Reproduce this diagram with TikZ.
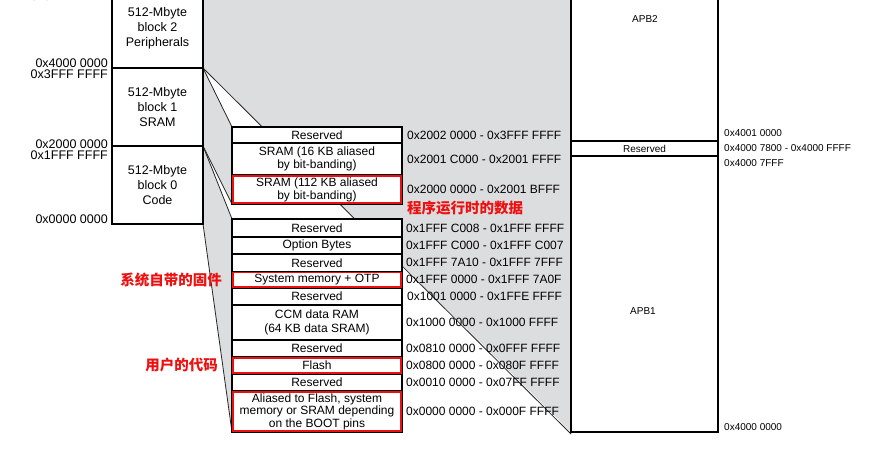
\documentclass[tikz,border=0pt]{standalone}
\usepackage{fontspec}
\setmainfont{Liberation Sans}
\newfontfamily\cjk{Noto Sans CJK SC}
\usepackage{tikz}
\usetikzlibrary{positioning,backgrounds}
\definecolor{fangray}{RGB}{220,221,223}
\definecolor{hlred}{RGB}{238,16,16}

\tikzset{
  blk/.style={draw, line width=1.2pt, fill=white, minimum width=91pt, inner sep=0pt,
    outer sep=0pt, align=center, anchor=north west, font=\fontsize{12.5}{15}\selectfont},
  row/.style={draw, line width=1.2pt, fill=white, minimum width=170pt, inner sep=0.5pt,
    outer sep=0pt, align=center, anchor=north west, font=\fontsize{12}{13}\selectfont},
  apbbox/.style={draw, line width=1.2pt, fill=white, minimum width=147pt, inner sep=0pt,
    outer sep=0pt, anchor=north west, font=\fontsize{10}{12}\selectfont},
  apbtxt/.style={inner sep=0pt, font=\fontsize{10}{12}\selectfont},
  addr/.style={inner sep=0pt, anchor=west, font=\fontsize{12}{14}\selectfont},
  laddr/.style={inner sep=0pt, anchor=east, font=\fontsize{12.5}{14}\selectfont},
  hl/.style={draw=hlred, line width=1.5pt},
  note/.style={inner sep=0pt, text=hlred, font=\cjk\bfseries\fontsize{14.5}{16}\selectfont},
  fanline/.style={line width=0.8pt, black!85}
}

\begin{document}
\begin{tikzpicture}[x=1pt, y=-1pt]
    \useasboundingbox (0,0) rectangle (879,458);
    \clip (0,0) rectangle (879,458);

    % Left column: 512-Mbyte blocks
    \node[blk, minimum height=80pt] (b2) at (112,-12) {512-Mbyte\\block 2\\Peripherals};
    \node[blk, minimum height=78pt] (b1) at (112,68) {512-Mbyte\\block 1\\SRAM};
    \node[blk, minimum height=78pt] (b0) at (112,146) {512-Mbyte\\block 0\\Code};

    \node[laddr] (l5) at (108,-4) {0x5FFF FFFF};
    \node[laddr] (l4) at (108,63) {0x4000 0000};
    \node[laddr] (l3) at (108,74) {0x3FFF FFFF};
    \node[laddr] (l2) at (108,144) {0x2000 0000};
    \node[laddr] (l1) at (108,155) {0x1FFF FFFF};
    \node[laddr] (l0) at (108,219) {0x0000 0000};

    % APB column
    \node[apbbox, minimum height=161pt] (apb2) at (571,-20) {};
    \node[apbbox, minimum height=15pt, below=0pt of apb2] (apbres) {Reserved};
    \node[apbbox, minimum height=276pt, below=0pt of apbres] (apb1) {};
    \node[apbtxt] (apb2lbl) at (645,19) {APB2};
    \node[apbtxt] (apb1lbl) at (643,311) {APB1};

    \node[apbtxt, anchor=west] (p3) at (724,133) {0x4001 0000};
    \node[apbtxt, right=6pt of apbres] (p2) {0x4000 7800 - 0x4000 FFFF};
    \node[apbtxt, anchor=west] (p1) at (724,163) {0x4000 7FFF};
    \node[apbtxt, anchor=west] (p0) at (724,427) {0x4000 0000};

    % SRAM detail
    \node[row, minimum height=16pt] (s1) at (232,127) {Reserved};
    \node[row, minimum height=32pt, below=0pt of s1] (s2) {SRAM (16 KB aliased\\by bit-banding)};
    \node[row, minimum height=29pt, below=0pt of s2] (s3) {SRAM (112 KB aliased\\by bit-banding)};

    \node[addr, right=5pt of s1] (sa1) {0x2002 0000 - 0x3FFF FFFF};
    \node[addr, right=5pt of s2] (sa2) {0x2001 C000 - 0x2001 FFFF};
    \node[addr, right=5pt of s3] (sa3) {0x2000 0000 - 0x2001 BFFF};

    % Code detail
    \node[row, minimum height=18pt] (c1) at (232,219) {Reserved};
    \node[row, minimum height=17pt, below=0pt of c1] (c2) {Option Bytes};
    \node[row, minimum height=17.5pt, below=0pt of c2] (c3) {Reserved};
    \node[row, minimum height=16.5pt, below=0pt of c3] (c4) {System memory + OTP};
    \node[row, minimum height=17pt, below=0pt of c4] (c5) {Reserved};
    \node[row, minimum height=35pt, below=0pt of c5, font=\fontsize{12}{14}\selectfont] (c6) {CCM data RAM\\(64 KB data SRAM)};
    \node[row, minimum height=17pt, below=0pt of c6] (c7) {Reserved};
    \node[row, minimum height=17pt, below=0pt of c7] (c8) {Flash};
    \node[row, minimum height=17pt, below=0pt of c8] (c9) {Reserved};
    \node[row, minimum height=41pt, below=0pt of c9, font=\fontsize{12}{12.6}\selectfont] (c10)
        {Aliased to Flash, system\\memory or SRAM depending\\on the BOOT pins};

    \node[addr, right=4pt of c1] (ca1) {0x1FFF C008 - 0x1FFF FFFF};
    \node[addr, right=4pt of c2] (ca2) {0x1FFF C000 - 0x1FFF C007};
    \node[addr, right=4pt of c3] (ca3) {0x1FFF 7A10 - 0x1FFF 7FFF};
    \node[addr, right=4pt of c4] (ca4) {0x1FFF 0000 - 0x1FFF 7A0F};
    \node[addr, right=5pt of c5] (ca5) {0x1001 0000 - 0x1FFE FFFF};
    \node[addr, right=4pt of c6] (ca6) {0x1000 0000 - 0x1000 FFFF};
    \node[addr, right=4pt of c7] (ca7) {0x0810 0000 - 0x0FFF FFFF};
    \node[addr, right=4pt of c8] (ca8) {0x0800 0000 - 0x080F FFFF};
    \node[addr, right=4pt of c9] (ca9) {0x0010 0000 - 0x07FF FFFF};
    \node[addr, right=4pt of c10] (ca10) {0x0000 0000 - 0x000F FFFF};

    % red highlights (inset in the cell)
    \foreach \cell in {s3,c4,c8,c10}
        \draw[hl] ([shift={(0.8,0.8)}]\cell.north west) rectangle ([shift={(-0.8,-0.8)}]\cell.south east);

    % notes
    \node[note, anchor=west] (n1) at (407,208) {程序运行时的数据};
    \node[note, left=10pt of c4] (n2) {系统自带的固件};
    \node[note, left=14pt of c8] (n3) {用户的代码};

    % zoom fans
    \begin{pgfonlayer}{background}
        \fill[white] (0,0) rectangle (879,458);
        \fill[fangray] (b2.north east) -- (apb2.north west) -- (apb1.south west) -- (b2.south east) -- cycle;
        \fill[fangray] (b1.north east) -- (s1.north west) -- (s3.south west) -- (b1.south east) -- cycle;
        \fill[fangray] (b0.north east) -- (c1.north west) -- (c10.south west) -- (b0.south east) -- cycle;
        \draw[fanline] (b2.south east) -- ([yshift=-2pt]apb1.south west);
        \draw[fanline] (b1.north east) -- (s1.north west);
        \draw[fanline] (b1.south east) -- (s3.south west);
        \draw[fanline] (b0.north east) -- (c1.north west);
        \draw[fanline] (b0.south east) -- (c10.south west);
    \end{pgfonlayer}
\end{tikzpicture}
\end{document}
